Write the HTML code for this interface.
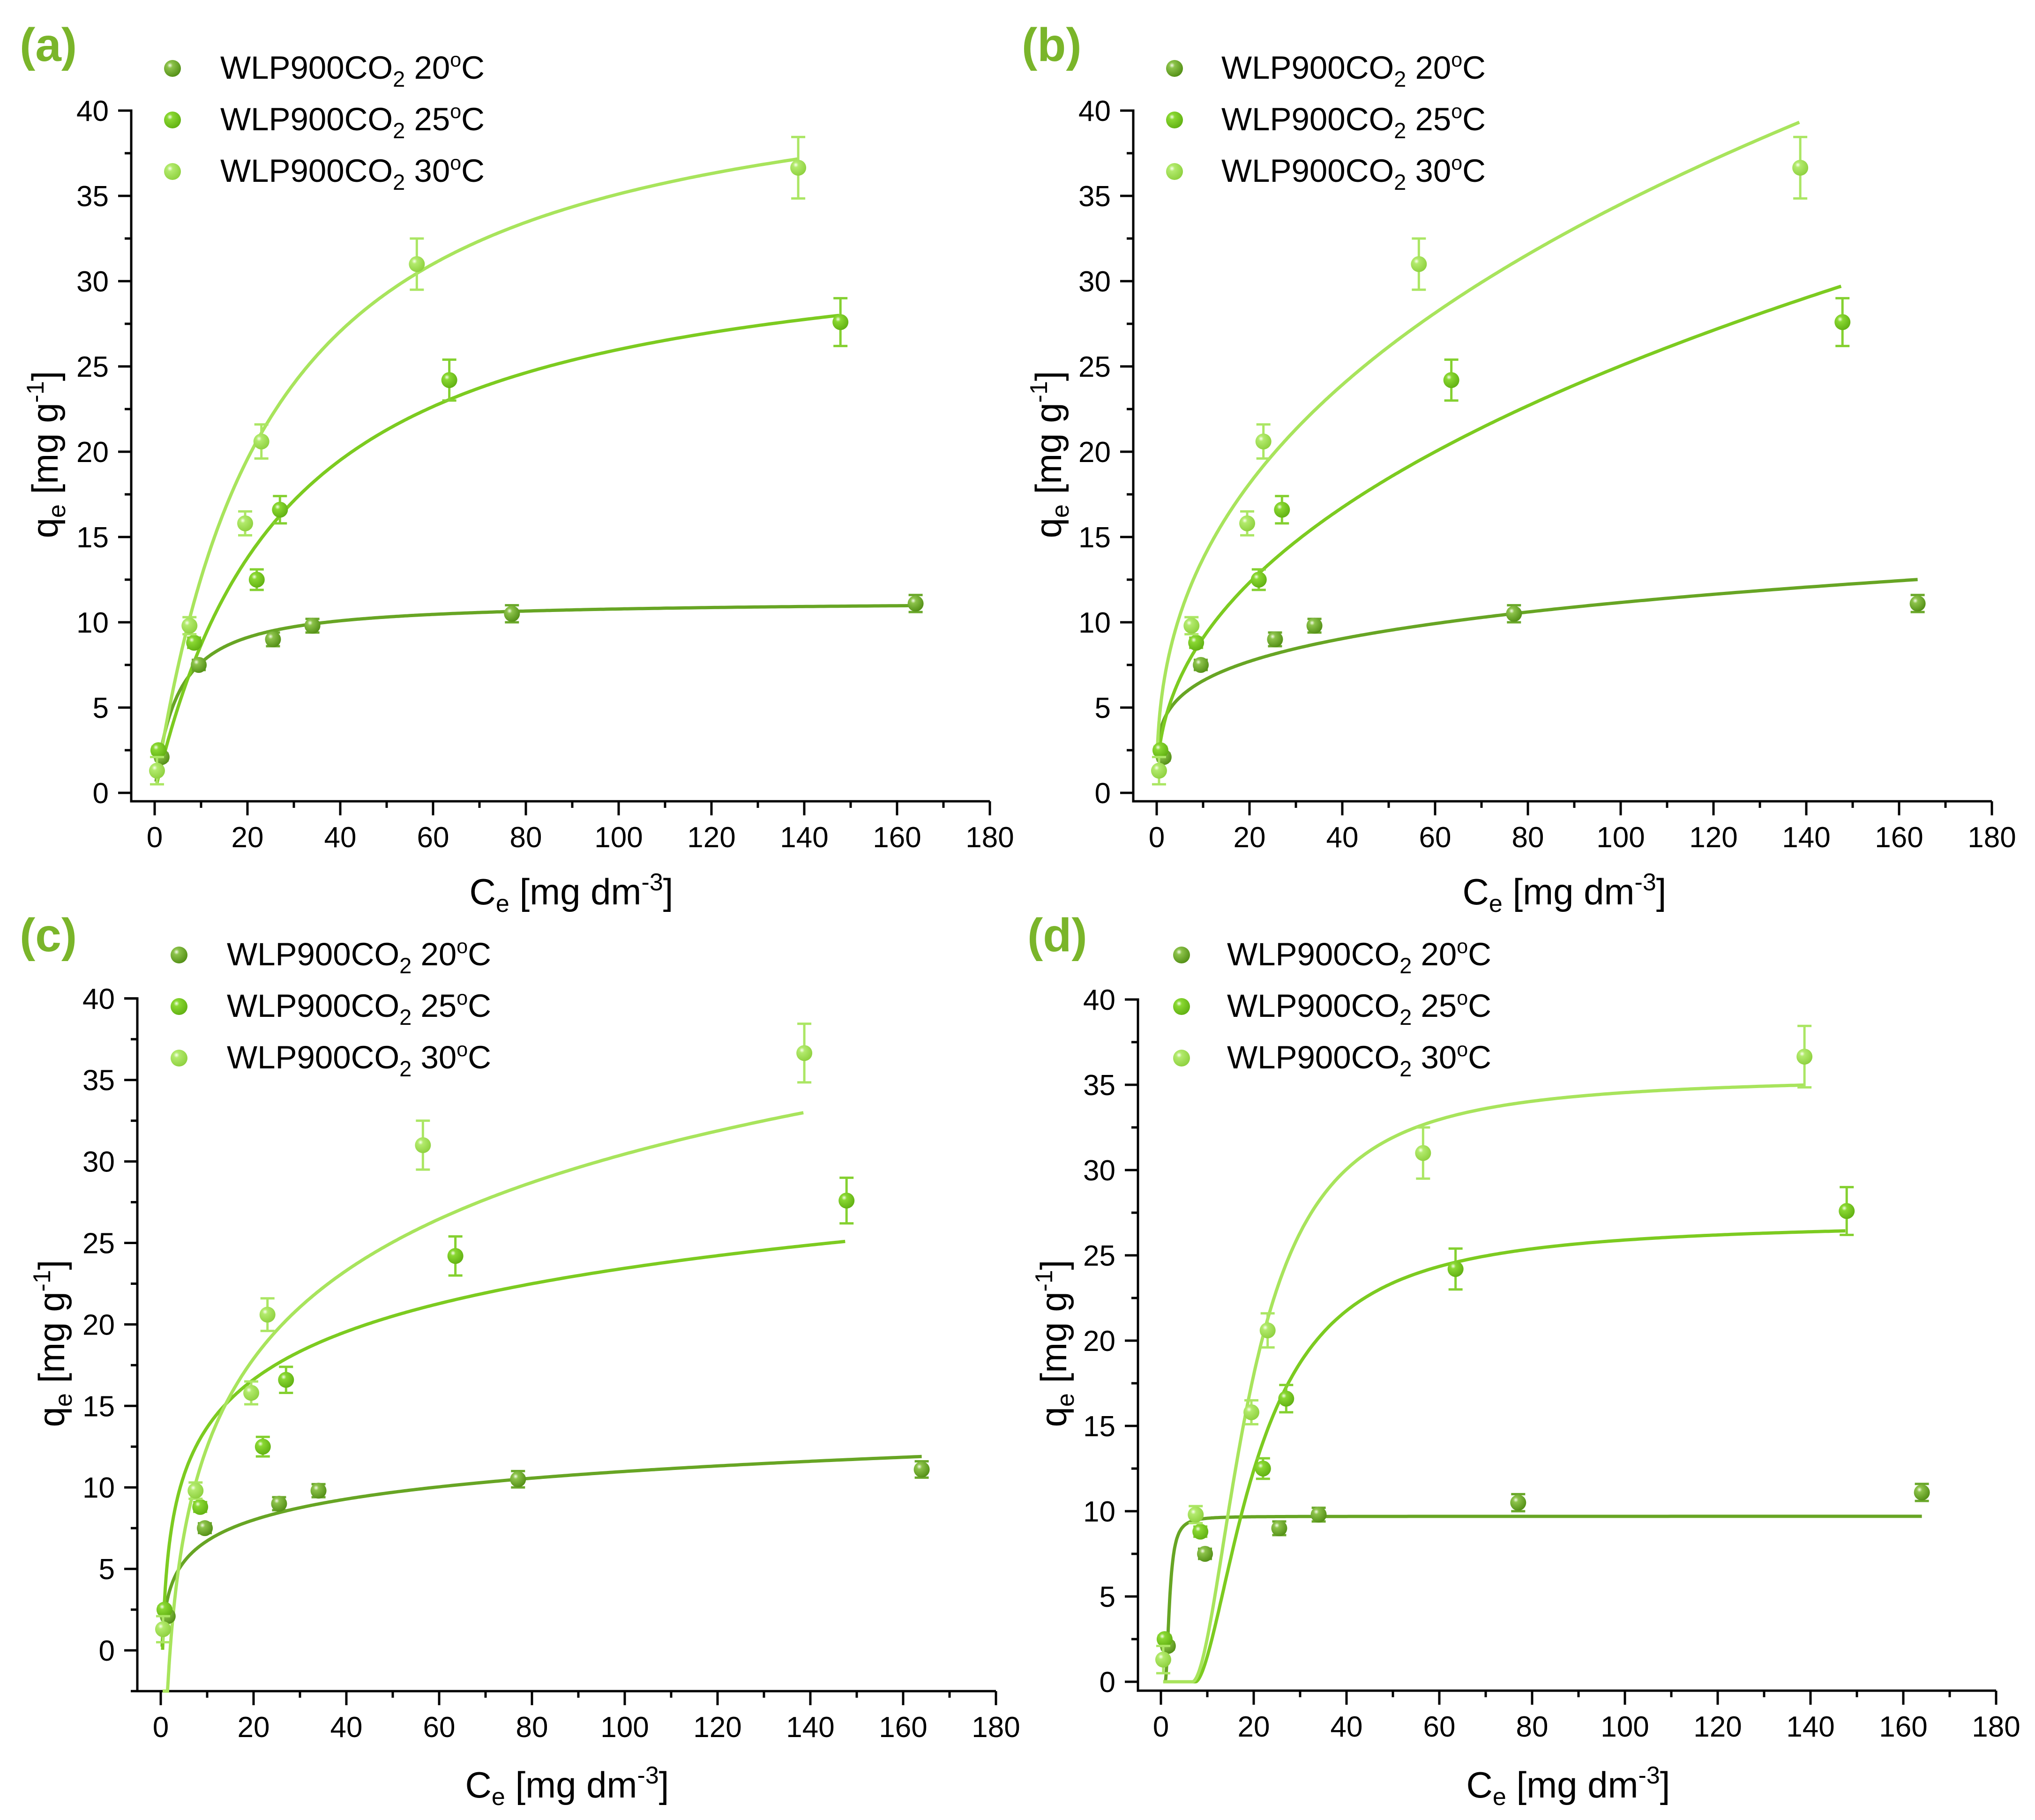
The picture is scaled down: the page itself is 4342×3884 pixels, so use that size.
<!DOCTYPE html>
<html><head><meta charset="utf-8"><style>
html,body{margin:0;padding:0;background:#fff;}
svg{display:block;}
text{font-family:"Liberation Sans",Arial,sans-serif;}
</style></head><body>
<svg id="fig" width="4342" height="3884" viewBox="0 0 4342 3884" xmlns="http://www.w3.org/2000/svg">
<defs>
<radialGradient id="g20" cx="0.35" cy="0.32" r="0.75"><stop offset="0" stop-color="#f4fbe8"/><stop offset="0.22" stop-color="#8cc24a"/><stop offset="1" stop-color="#4f8c12"/></radialGradient>
<radialGradient id="g25" cx="0.35" cy="0.32" r="0.75"><stop offset="0" stop-color="#f4fde8"/><stop offset="0.22" stop-color="#8ad832"/><stop offset="1" stop-color="#5eae10"/></radialGradient>
<radialGradient id="g30" cx="0.35" cy="0.32" r="0.75"><stop offset="0" stop-color="#fafff0"/><stop offset="0.22" stop-color="#b2ea6c"/><stop offset="1" stop-color="#8ccf3c"/></radialGradient>
</defs>
</svg>
<script>
// ---- shared experimental data (C_e, q_e, error) ----
const ce20 = [1.5, 9.5, 25.5, 34, 77, 164];
const qe20 = [2.1, 7.5, 9.0, 9.8, 10.5, 11.1];
const er20 = [0.2, 0.3, 0.4, 0.4, 0.5, 0.5];
const ce25 = [0.8, 8.5, 22, 27, 63.5, 147.8];
const qe25 = [2.5, 8.8, 12.5, 16.6, 24.2, 27.6];
const er25 = [0.2, 0.3, 0.6, 0.8, 1.2, 1.4];
const ce30 = [0.5, 7.5, 19.5, 23, 56.5, 138.7];
const qe30 = [1.3, 9.8, 15.8, 20.6, 31.0, 36.65];
const er30 = [0.8, 0.5, 0.7, 1.0, 1.5, 1.8];
const seriesLabels = ["20", "25", "30"];
const xTicks = [0, 20, 40, 60, 80, 100, 120, 140, 160, 180];
const yTicks = [0, 5, 10, 15, 20, 25, 30, 35, 40];
// ---- fitted model parameters ----
const langmuirParams = [[11.3, 0.208, 0.3, 164], [33.4, 0.0351, 0.5, 147.5], [43.8, 0.0404, 0.5, 138.5]];
const freundlichParams = [[3.87, 0.23, 0.1, 164], [3.3, 0.44, 0.3, 147.5], [5.47, 0.40, 0.15, 138.5]];
const temkinParams = [[1.85, 3.78, 0.3, 164], [4.24, 2.52, 0.4, 147.5], [7.8, 0.496, 0.4, 138.5]];
const sigmoidParams = [[9.7, 0.9, 1.0, 2.0, 0.9, 164], [27.0, 7.5, 13.8, 1.66, 0.5, 147.5], [35.5, 6.8, 13.0, 1.82, 0.5, 138.5]];

const NS = "http://www.w3.org/2000/svg";
const svg = document.getElementById("fig");
const lineCol = ["#67a524", "#7ccb20", "#a8e45c"];
const errCol = ["#6aa82a", "#84d030", "#abe664"];
const grads = ["url(#g20)", "url(#g25)", "url(#g30)"];
const CE = [ce20, ce25, ce30], QE = [qe20, qe25, qe30], ER = [er20, er25, er30];

function mk(tag, attrs, parent) {
  const e = document.createElementNS(NS, tag);
  for (const k in attrs) e.setAttribute(k, attrs[k]);
  (parent || svg).appendChild(e);
  return e;
}

const models = {
  a: (p, c) => p[0] * p[1] * c / (1 + p[1] * c),
  b: (p, c) => p[0] * Math.pow(c, p[1]),
  c: (p, c) => p[0] * Math.log(p[1] * c),
  d: (p, c) => { const u = c - p[1]; if (u <= 0) return 0; const r = Math.pow(u, p[3]); return p[0] * r / (Math.pow(p[2], p[3]) + r); }
};
const panels = [
  {id: "a", x0: 330, left: 280, y0: 1692, sy: 36.4, bottom: 1710, yMin: -0.5, params: langmuirParams, lab: [42, 150], leg: [368, 470, 168], ytitle: 97, ytitleY: 970, xtitle: [1219, 1930]},
  {id: "b", x0: 2468, left: 2418, y0: 1692, sy: 36.4, bottom: 1710, yMin: -0.5, params: freundlichParams, lab: [2180, 150], leg: [2506, 2606, 168], ytitle: 2238, ytitleY: 970, xtitle: [3338, 1930]},
  {id: "c", x0: 343, left: 293, y0: 3522, sy: 34.78, bottom: 3609, yMin: -2.5, params: temkinParams, lab: [42, 2050], leg: [382, 484, 2060], ytitle: 111, ytitleY: 2867, xtitle: [1210, 3836]},
  {id: "d", x0: 2477, left: 2428, y0: 3589, sy: 36.4, bottom: 3608, yMin: -0.5, params: sigmoidParams, lab: [2192, 2050], leg: [2521, 2618, 2060], ytitle: 2249, ytitleY: 2867, xtitle: [3346, 3836]}
];
const SX = 9.9;

panels.forEach(P => {
  const g = mk("g", {});
  
  
  const X = c => P.x0 + c * SX;
  const Y = q => P.y0 - q * P.sy;
  const top = Y(40), right = X(180);
  const lt = mk("text", {x: P.lab[0], y: P.lab[1] - 20, "font-size": 100, "font-weight": "bold", fill: "#7ab52a"}, g);
  lt.textContent = "(" + P.id + ")";
  
  
  const ax = mk("path", {d: `M${P.left - 28} ${top} H${P.left} V${P.bottom} H${right}`, fill: "none", stroke: "#000", "stroke-width": 5}, g);
  
  
  yTicks.forEach(v => {
    const yy = Y(v);
    mk("line", {x1: P.left - 28, x2: P.left, y1: yy, y2: yy, stroke: "#000", "stroke-width": 5}, g);
    const t = mk("text", {x: P.left - 48, y: yy + 22, "font-size": 62, "text-anchor": "end"}, g);
    t.textContent = v;
    
    
    const mv = v + 2.5;
    if (mv < 40) mk("line", {x1: P.left - 14, x2: P.left, y1: Y(mv), y2: Y(mv), stroke: "#000", "stroke-width": 5}, g);
  });
  if (P.yMin <= -2.5) mk("line", {x1: P.left - 14, x2: P.left, y1: Y(-2.5), y2: Y(-2.5), stroke: "#000", "stroke-width": 5}, g);
  xTicks.forEach(v => {
    const xx = X(v);
    mk("line", {x1: xx, x2: xx, y1: P.bottom, y2: P.bottom + 30, stroke: "#000", "stroke-width": 5}, g);
    const t = mk("text", {x: xx, y: P.bottom + 98, "font-size": 62, "text-anchor": "middle"}, g);
    t.textContent = v;
    
    
    if (v < 180) mk("line", {x1: X(v + 10), x2: X(v + 10), y1: P.bottom, y2: P.bottom + 14, stroke: "#000", "stroke-width": 5}, g);
  });
  const yt = mk("text", {transform: `translate(${P.ytitle + 26},${P.ytitleY}) rotate(-90)`, "font-size": 78, "text-anchor": "middle"}, g);
  yt.innerHTML = 'q<tspan font-size="52" dy="16">e</tspan><tspan dy="-16"> [mg g</tspan><tspan font-size="52" dy="-30">-1</tspan><tspan dy="30">]</tspan>';
  
  
  const xt = mk("text", {x: P.xtitle[0], y: P.xtitle[1], "font-size": 78, "text-anchor": "middle"}, g);
  xt.innerHTML = 'C<tspan font-size="52" dy="16">e</tspan><tspan dy="-16"> [mg dm</tspan><tspan font-size="52" dy="-30">-3</tspan><tspan dy="30">]</tspan>';
  
  
  seriesLabels.forEach((s, i) => {
    const yy = P.leg[2] + i * 110;
    const m = mk("circle", {cx: P.leg[0], cy: yy - 22, r: 18, fill: grads[i]}, g);
    
    
    const t = mk("text", {x: P.leg[1], y: yy, "font-size": 69}, g);
    t.innerHTML = 'WLP900CO<tspan font-size="47" dy="17">2</tspan><tspan dy="-17"> ' + s + '</tspan><tspan font-size="43" dy="-26">o</tspan><tspan dy="26">C</tspan>';
    
    
  });
  P.params.forEach((p, i) => {
    const c0 = P.id === "d" ? p[4] : p[2];
    const c1 = P.id === "d" ? p[5] : p[3];
    let d = "";
    const N = 400;
    for (let k = 0; k <= N; k++) {
      const c = c0 + (c1 - c0) * Math.pow(k / N, 2);
      let q = models[P.id](p, c);
      if (q < P.yMin) q = P.yMin;
      d += (k ? "L" : "M") + X(c).toFixed(1) + " " + Y(q).toFixed(1);
    }
    const path = mk("path", {d: d, fill: "none", stroke: lineCol[i], "stroke-width": 7}, g);
    
    
  });
  for (let i = 0; i < 3; i++) {
    CE[i].forEach((c, j) => {
      const q = QE[i][j], e = ER[i][j];
      const xx = X(c);
      const eb = mk("path", {d: `M${xx} ${Y(q + e)} V${Y(q - e)} M${xx - 15} ${Y(q + e)} H${xx + 15} M${xx - 15} ${Y(q - e)} H${xx + 15}`, stroke: errCol[i], "stroke-width": 5, fill: "none"}, g);
      
      
      const pt = mk("circle", {cx: xx, cy: Y(q), r: 17, fill: grads[i]}, g);
      
      
    });
  }
});
</script>
</body></html>
